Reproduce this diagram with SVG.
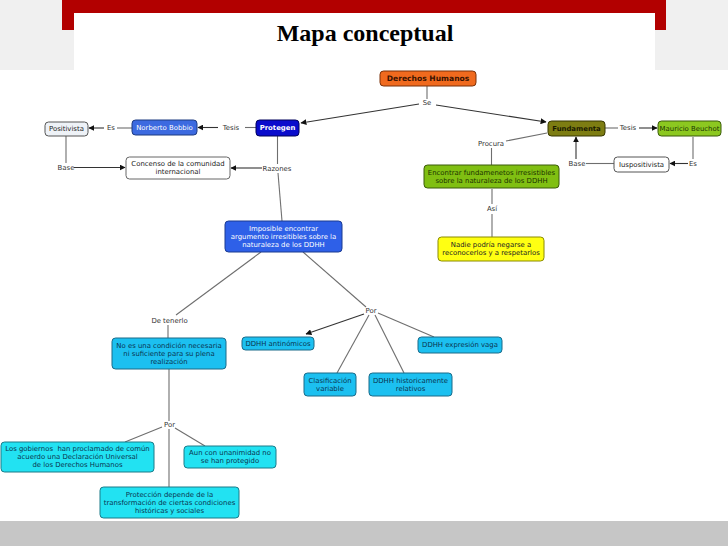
<svg xmlns="http://www.w3.org/2000/svg" width="728" height="546" viewBox="0 0 728 546">
<defs>
<marker id="arr" viewBox="0 0 10 10" refX="9" refY="5" markerWidth="6" markerHeight="6" orient="auto" markerUnits="userSpaceOnUse">
<path d="M0,0 L10,5 L0,10 z" fill="#111"/>
</marker>
<style>
text{font-family:"DejaVu Sans",Verdana,sans-serif;font-size:6.9px;text-anchor:middle;dominant-baseline:central;fill:#222}
.lbl{fill:#333}
.b{font-weight:bold}
.w{fill:#fff}
rect{stroke-width:1}
#conn line{stroke:#6e6e6e;stroke-width:1.1;fill:none}
#conn line.a{stroke:#333;marker-end:url(#arr)}
.cyan{fill:#1cc0f0;stroke:#1a6a88}
.cyan2{fill:#22e2f2;stroke:#1a7a88}
.cy{fill:#0a3550}
</style>
</defs>
<rect x="0" y="0" width="728" height="546" fill="#ffffff"/>
<rect x="0" y="0" width="728" height="70" fill="#f0f0f0"/>
<rect x="0" y="521" width="728" height="25" fill="#c6c6c6"/>
<rect x="62" y="0" width="604" height="30" fill="#b20000"/>
<rect x="74" y="13" width="581" height="57" fill="#ffffff"/>
<text x="365" y="41" style="font-family:'Liberation Serif','Times New Roman',serif;font-size:24px;font-weight:bold;dominant-baseline:alphabetic;fill:#000">Mapa conceptual</text>

<g id="conn">
<line x1="427" y1="86" x2="427" y2="99"/>
<line class="a" x1="419" y1="104" x2="301" y2="123"/>
<line class="a" x1="436" y1="105" x2="546" y2="122"/>
<line x1="256" y1="127.5" x2="245" y2="127.5"/>
<line class="a" x1="218" y1="127.5" x2="198" y2="127.5"/>
<line x1="132" y1="128" x2="117" y2="128"/>
<line class="a" x1="104" y1="128" x2="89" y2="128"/>
<line x1="66" y1="136" x2="66" y2="163"/>
<line class="a" x1="74" y1="167.5" x2="125" y2="167.5"/>
<line x1="277.5" y1="136" x2="277.5" y2="164"/>
<line class="a" x1="262" y1="168" x2="231" y2="168"/>
<line x1="278" y1="173" x2="282" y2="221"/>
<line x1="261" y1="252" x2="176" y2="315"/>
<line x1="168" y1="325" x2="168" y2="338"/>
<line x1="303" y1="252" x2="366" y2="307"/>
<line class="a" x1="364" y1="314" x2="306" y2="334"/>
<line x1="378" y1="313" x2="434" y2="337"/>
<line x1="369" y1="315" x2="337" y2="373"/>
<line x1="375" y1="315" x2="404" y2="373"/>
<line x1="169" y1="369" x2="169" y2="421"/>
<line x1="162" y1="427" x2="125" y2="442"/>
<line x1="175" y1="428" x2="205" y2="446"/>
<line x1="169" y1="429" x2="169" y2="487"/>
<line x1="605" y1="128" x2="618" y2="128"/>
<line class="a" x1="639" y1="128" x2="657" y2="128"/>
<line x1="693" y1="137" x2="693" y2="159"/>
<line class="a" x1="688" y1="163.5" x2="670" y2="163.5"/>
<line x1="614" y1="163.5" x2="586" y2="163.5"/>
<line class="a" x1="576" y1="159" x2="576" y2="137"/>
<line x1="547" y1="133" x2="506" y2="141"/>
<line x1="491.5" y1="148" x2="491.5" y2="165"/>
<line x1="492" y1="189" x2="492" y2="204"/>
<line x1="492" y1="214" x2="492" y2="237"/>
</g>

<g id="labels">
<text class="lbl" x="427" y="103">Se</text>
<text class="lbl" x="231" y="127.5">Tesis</text>
<text class="lbl" x="111" y="128">Es</text>
<text class="lbl" x="66" y="167.5">Base</text>
<text class="lbl" x="277" y="168.5">Razones</text>
<text class="lbl" x="169.5" y="321">De tenerlo</text>
<text class="lbl" x="371" y="310.5">Por</text>
<text class="lbl" x="169.5" y="425">Por</text>
<text class="lbl" x="628" y="128">Tesis</text>
<text class="lbl" x="693" y="163.5">Es</text>
<text class="lbl" x="577" y="163.5">Base</text>
<text class="lbl" x="491" y="143.5">Procura</text>
<text class="lbl" x="492" y="209">Así</text>
</g>

<g id="n-derechos">
<rect x="380" y="71" width="96" height="15" rx="3.5" fill="#f06a1e" stroke="#7a3008"/>
<text class="b" x="428" y="78.5" style="fill:#3a1200;font-size:7.6px">Derechos Humanos</text>
</g>
<g id="n-protegen">
<rect x="256" y="120" width="43" height="16" rx="3.5" fill="#0a0ccc" stroke="#00005a"/>
<text class="b w" x="277.5" y="128">Protegen</text>
</g>
<g id="n-bobbio">
<rect x="132" y="120" width="65" height="15" rx="3.5" fill="#3c6ae0" stroke="#1d3a80"/>
<text class="w" x="164.5" y="127.5">Norberto Bobbio</text>
</g>
<g id="n-positivista">
<rect x="45" y="122" width="43" height="14" rx="3.5" fill="#eef2f7" stroke="#555"/>
<text x="66.5" y="129">Positivista</text>
</g>
<g id="n-concenso">
<rect x="126" y="157" width="104" height="22" rx="3.5" fill="#fff" stroke="#666"/>
<text x="178" y="164">Concenso de la comunidad</text>
<text x="178" y="172">internacional</text>
</g>
<g id="n-imposible">
<rect x="225" y="221" width="117" height="31" rx="3.5" fill="#2e60e8" stroke="#1a3a90"/>
<text class="w" x="283.5" y="228.5">Imposible encontrar</text>
<text class="w" x="283.5" y="236.5">argumento irresitibles sobre la</text>
<text class="w" x="283.5" y="244.5">naturaleza de los DDHH</text>
</g>
<g id="n-fundamenta">
<rect x="548" y="121" width="57" height="15" rx="3.5" fill="#7d7d12" stroke="#363600"/>
<text class="b" x="576.5" y="128.5" style="fill:#1a1a00">Fundamenta</text>
</g>
<g id="n-beuchot">
<rect x="658" y="121" width="63" height="15" rx="3.5" fill="#8cc820" stroke="#3a5a0a"/>
<text x="689.5" y="128.5" style="fill:#1a3500">Mauricio Beuchot</text>
</g>
<g id="n-iuspositivista">
<rect x="614" y="157" width="55" height="15" rx="3.5" fill="#fff" stroke="#555"/>
<text x="641.5" y="164.5">Iuspositivista</text>
</g>
<g id="n-encontrar">
<rect x="424" y="165" width="135" height="23" rx="3.5" fill="#80bf12" stroke="#3a5a0a"/>
<text x="491.5" y="172.5" style="fill:#1a3300">Encontrar fundamenetos irresistibles</text>
<text x="491.5" y="180.5" style="fill:#1a3300">sobre la naturaleza de los DDHH</text>
</g>
<g id="n-nadie">
<rect x="438" y="237" width="106" height="24" rx="3.5" fill="#ffff12" stroke="#8a8a00"/>
<text x="491" y="245">Nadie podría negarse a</text>
<text x="491" y="253">reconocerlos y a respetarlos</text>
</g>
<g id="n-noes">
<rect x="112" y="338" width="114" height="31" rx="3.5" class="cyan"/>
<text class="cy" x="169" y="345.5">No es una condición necesaria</text>
<text class="cy" x="169" y="353.5">ni suficiente para su plena</text>
<text class="cy" x="169" y="361.5">realización</text>
</g>
<g id="n-antinomicos">
<rect x="242" y="337" width="72" height="13" rx="3.5" class="cyan"/>
<text class="cy" x="278" y="343.5">DDHH antinómicos</text>
</g>
<g id="n-vaga">
<rect x="418" y="337" width="84" height="16" rx="3.5" class="cyan"/>
<text class="cy" x="460" y="345">DDHH expresión vaga</text>
</g>
<g id="n-clasificacion">
<rect x="304" y="373" width="52" height="23" rx="3.5" class="cyan"/>
<text class="cy" x="330" y="380.5">Clasificación</text>
<text class="cy" x="330" y="388.5">variable</text>
</g>
<g id="n-historicamente">
<rect x="369" y="373" width="83" height="23" rx="3.5" class="cyan"/>
<text class="cy" x="410.5" y="380.5">DDHH historicamente</text>
<text class="cy" x="410.5" y="388.5">relativos</text>
</g>
<g id="n-gobiernos">
<rect x="1" y="442" width="153" height="30" rx="3.5" class="cyan2"/>
<text class="cy" x="77.5" y="449" xml:space="preserve">Los gobiernos  han proclamado de común</text>
<text class="cy" x="77.5" y="457">acuerdo una Declaración Universal</text>
<text class="cy" x="77.5" y="465">de los Derechos Humanos</text>
</g>
<g id="n-aun">
<rect x="184" y="446" width="92" height="22" rx="3.5" class="cyan2"/>
<text class="cy" x="230" y="453">Aun con unanimidad no</text>
<text class="cy" x="230" y="461">se han protegido</text>
</g>
<g id="n-proteccion">
<rect x="100" y="487" width="139" height="31" rx="3.5" class="cyan2"/>
<text class="cy" x="169.5" y="494.5">Protección depende de la</text>
<text class="cy" x="169.5" y="502.5">transformación de ciertas condiciones</text>
<text class="cy" x="169.5" y="510.5">históricas y sociales</text>
</g>
</svg>
